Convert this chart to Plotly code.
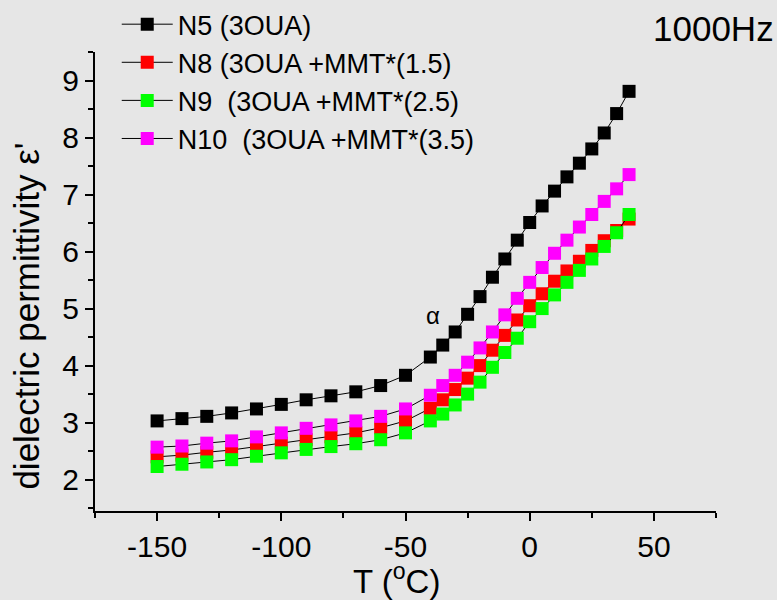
import plotly.graph_objects as go

temps = [-150, -140, -130, -120, -110, -100, -90, -80, -70, -60, -50,
         -40, -35, -30, -25, -20, -15, -10, -5, 0, 5, 10, 15, 20, 25, 30, 35, 40]

n5 = [3.03, 3.07, 3.11, 3.17, 3.24, 3.32, 3.40, 3.47, 3.54, 3.65, 3.83,
      4.15, 4.36, 4.59, 4.90, 5.21, 5.55, 5.87, 6.20, 6.51, 6.80, 7.06, 7.31, 7.55, 7.80, 8.08, 8.42, 8.81]
n8 = [2.40, 2.43, 2.48, 2.52, 2.58, 2.64, 2.70, 2.75, 2.82, 2.91, 3.03,
      3.25, 3.40, 3.58, 3.78, 4.00, 4.27, 4.53, 4.80, 5.05, 5.26, 5.48, 5.66, 5.83, 6.02, 6.19, 6.37, 6.57]
n9 = [2.23, 2.27, 2.31, 2.35, 2.41, 2.47, 2.53, 2.58, 2.63, 2.70, 2.82,
      3.03, 3.15, 3.31, 3.50, 3.71, 3.97, 4.23, 4.48, 4.77, 5.00, 5.24, 5.46, 5.67, 5.87, 6.09, 6.33, 6.65]
n10 = [2.57, 2.59, 2.64, 2.68, 2.75, 2.82, 2.90, 2.96, 3.03, 3.11, 3.24,
       3.48, 3.65, 3.83, 4.06, 4.31, 4.59, 4.89, 5.18, 5.46, 5.72, 5.97, 6.20, 6.43, 6.65, 6.88, 7.10, 7.35]

series_names = ["N5 (3OUA)", "N8 (3OUA +MMT*(1.5)", "N9  (3OUA +MMT*(2.5)", "N10  (3OUA +MMT*(3.5)"]
series_values = [n5, n8, n9, n10]
series_colors = ["#000000", "#ff0000", "#00ff00", "#ff00ff"]

x_ticks = [-150, -100, -50, 0, 50]
y_ticks = [2, 3, 4, 5, 6, 7, 8, 9]

FONT = "Liberation Sans, Arial, sans-serif"

fig = go.Figure()
for name, vals, col in zip(series_names, series_values, series_colors):
    fig.add_trace(go.Scatter(
        x=temps, y=vals, name=name, mode="lines+markers",
        line=dict(color="black", width=1),
        marker=dict(symbol="square", size=13, color=col, line=dict(width=0)),
    ))

axis_common = dict(
    showline=True, linecolor="black", linewidth=2,
    ticks="outside", ticklen=8, tickwidth=2, tickcolor="black",
    showgrid=False, zeroline=False,
    tickfont=dict(family=FONT, size=30, color="black"),
)

fig.update_xaxes(
    range=[-175, 75], tickvals=x_ticks, ticktext=[str(v) for v in x_ticks],
    minor=dict(ticks="outside", ticklen=5, tickwidth=1.5, tickcolor="black", dtick=25, tick0=-175),
    **axis_common,
)
fig.update_yaxes(
    range=[1.45, 9.5], tickvals=y_ticks, ticktext=[str(v) for v in y_ticks],
    minor=dict(ticks="outside", ticklen=5, tickwidth=1.5, tickcolor="black", dtick=0.5, tick0=0.5),
    **axis_common,
)

fig.add_annotation(text="dielectric permittivity ε'", xref="paper", yref="paper",
                   x=-0.11, y=0.425, xanchor="center", yanchor="middle", textangle=-90,
                   showarrow=False, font=dict(family=FONT, size=35, color="black"))
fig.add_annotation(text="T (<sup>o</sup>C)", xref="paper", yref="paper",
                   x=0.486, y=-0.148, xanchor="center", yanchor="middle",
                   showarrow=False, font=dict(family=FONT, size=33, color="black"))
fig.add_annotation(text="1000Hz", xref="paper", yref="paper",
                   x=1.097, y=1.052, xanchor="right", yanchor="middle",
                   showarrow=False, font=dict(family=FONT, size=35, color="black"))
fig.add_annotation(text="α", x=-39, y=4.88, xref="x", yref="y",
                   showarrow=False, font=dict(family=FONT, size=24, color="black"))

fig.update_layout(
    width=777, height=600,
    margin=dict(l=95, r=61, t=52, b=89, autoexpand=False),
    paper_bgcolor="#e6e6e6", plot_bgcolor="rgba(0,0,0,0)",
    showlegend=True,
    legend=dict(x=0.035, y=1.113, xanchor="left", yanchor="top",
                bgcolor="rgba(0,0,0,0)", font=dict(family=FONT, size=27, color="black"),
                tracegroupgap=0, itemwidth=51),
    font=dict(family=FONT, color="black"),
)

fig.write_html("out.html")
